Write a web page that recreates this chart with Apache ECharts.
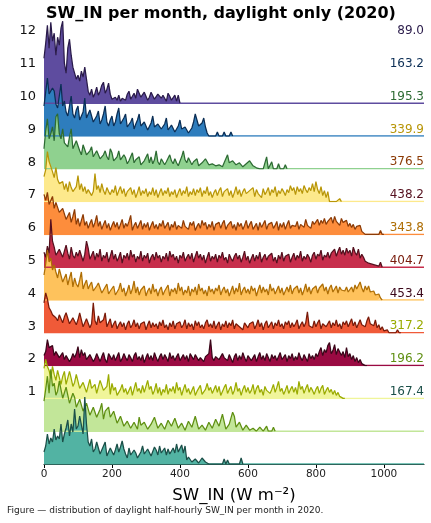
<!DOCTYPE html>
<html><head><meta charset="utf-8">
<script src="https://cdn.jsdelivr.net/npm/echarts@6/dist/echarts.min.js"></script>
<style>html,body{margin:0;padding:0;background:#fff}#c{width:431px;height:523px}</style>
</head><body><div id="c"></div>
<script>
// months Jan..Dec (index 0 = January, bottom ridge)
const months = ['1','2','3','4','5','6','7','8','9','10','11','12'];
const meanSW = ['167.4','196.2','317.2','453.4','404.7','343.8','438.2','376.5','339.9','195.3','163.2','89.0'];
const binWidth = 5; // W m-2 per histogram bin
const xTicks = [0,200,400,600,800,1000];
// histogram heights per 5 W m-2 bin (arbitrary units)
const jan = [12,18,30,20,26,22,35,24,28,25, 40,22,30,36,44,28,40,32,55,35, 38,48,50,30,67,40,22,18,25,12, 15,22,20,10,12,18,22,8,10,16,
  18,9,14,20,12,17,23,15,10,6, 16,9,8,14,11,6,9,12,18,10, 12,15,16,8,10,17,14,9,18,11, 12,16,9,15,10,13,16,11,20,12,
  14,19,11,18,4,7,6,2,3,5, 5,1,3,6,8,2,0,0,0,0, 0,0,0,0,0,0,5,0,4,0, 0,0,0,0,0,0,6,0];
const feb = [30,42,55,38,62,45,48,36,40,50, 52,33,35,44,45,28,30,38,34,24, 25,32,34,20,22,28,30,16,18,24, 26,14,15,22,28,12,20,18,24,14,
  14,20,22,8,10,15,16,5,6,10, 12,3,4,9,10,2,14,6,5,9, 9,2,3,7,8,14,15,3,4,8, 10,2,3,11,12,5,6,13,14,3,
  4,8,9,1,2,10,12,4,5,15, 16,2,3,6,8,1,2,9,10,3, 4,12,14,5,6,17,18,2,3,7, 8,19,15,4,5,9,10,1,2,6,
  7,1,1,3,4,0,1,4,5,0, 0,5,0,0,0,4,0];
const mar = [30,39,32,28,20,32,24,18,28,26, 14,22,27,14,12,27,20,12,16,24, 24,10,12,16,18,6,8,19,10,8, 14,5,6,18,16,8,10,12,24,4,
  15,8,11,3,5,9,14,6,10,4, 8,12,3,5,16,7,10,5,13,6, 6,18,9,12,4,8,15,5,11,3, 9,6,14,4,10,7,12,5,16,8,
  11,3,9,14,6,10,4,8,12,3, 7,10,13,4,6,9,15,8,11,5, 9,13,6,12,3,7,11,14,5,9, 12,4,8,16,7,10,3,9,13,6,
  11,5,8,14,4,10,13,6,9,3, 12,8,10,5,9,14,6,11,17,7, 10,4,8,13,5,9,12,6,11,4, 17,9,12,5,10,14,6,11,8,4,
  9,12,5,10,13,4,8,11,6,9, 4,8,3,6,2,0,0,0];
const apr = [10,14,26,18,16,20,10,14,12,8, 9,13,6,10,11,4,7,12,8,12, 19,8,16,10,13,6,5,11,10,4, 7,12,8,4,9,13,6,3,12,9,
  6,11,5,9,13,4,7,12,8,5, 11,8,4,10,13,6,9,5,11,3, 8,12,6,10,5,13,8,4,9,12, 6,11,8,4,13,7,10,5,9,12,
  5,8,11,6,10,4,12,9,6,11, 13,5,8,10,4,9,7,12,26,8, 5,9,11,6,4,12,8,10,5,11, 7,3,9,12,5,10,6,13,8,4,
  10,12,5,8,11,4,9,13,6,10, 5,12,8,4,11,7,10,5,9,13, 6,8,11,4,10,7,12,5,9,6, 13,8,5,11,9,4,12,7,10,6,
  12,9,14,18,10,16,13,20,23,12, 15,21,11,17,19,10,14,8,18,9, 12,6,10,4,8,3,6,2,4,0, 0];
const may = [30,40,34,25,22,18,20,15,12,18, 14,10,16,20,22,9,12,15,17,8, 13,20,18,6,10,14,12,5,9,30, 12,8,17,10,8,13,20,6,10,14,
  5,9,12,4,8,11,6,10,3,9, 12,5,8,13,6,10,4,9,7,11, 3,8,12,5,10,6,9,4,11,7, 13,5,8,3,10,6,12,4,9,7,
  11,5,8,13,4,10,6,9,3,12, 7,11,5,8,4,10,13,6,9,5, 12,4,8,11,3,9,6,12,5,10, 7,13,4,9,11,6,8,3,10,12,
  5,9,7,11,4,8,13,6,10,3, 9,12,5,8,11,4,10,7,13,6, 9,4,11,8,12,5,10,6,9,13, 4,8,11,6,10,21,7,9,5,12,
  6,10,13,4,9,11,6,8,12,5, 10,7,13,6,9,4,11,8,12,6, 10,14,7,11,5,9,13,8,10,6, 12,16,9,11,7,13,5,8,3,6,
  2,0,3,0,0,0,0,0,3,0, 0];
const jun = [25,36,50,38,42,30,35,28,22,31, 31,18,20,26,15,22,28,13,22,16, 13,20,28,11,16,20,11,15,18,9, 9,14,17,19,7,10,12,16,6,9,
  10,14,5,8,11,17,8,12,4,9, 15,6,11,19,7,13,5,10,8,14, 4,9,12,6,16,8,11,4,10,13, 5,9,7,15,4,11,8,12,6,17,
  9,13,5,10,7,14,4,11,8,13, 5,16,9,12,6,10,4,14,8,11, 6,12,9,15,5,10,13,7,11,4, 9,14,6,12,8,17,5,10,13,7,
  11,6,14,9,12,4,10,15,7,13, 8,11,5,16,9,12,6,10,14,7, 12,5,9,13,8,15,6,11,9,14, 7,12,5,10,16,8,13,6,11,9,
  14,7,12,10,16,9,13,6,12,15, 8,11,14,7,13,10,12,9,13,8, 10,13,8,15,11,9,18,12,8,14, 10,14,8,6,9,5,3,6,2,0];
const jul = [15,10,21,14,48,26,20,12,12,18, 18,10,16,22,14,8,20,12,9,15, 11,17,17,6,13,26,19,8,12,16, 7,14,10,18,6,12,9,15,5,11,
  17,8,13,6,10,15,4,12,9,14, 7,17,10,13,5,11,8,16,6,12, 9,14,4,10,13,7,15,9,12,5, 11,8,14,6,16,10,13,7,11,4,
  12,9,15,6,10,13,8,14,5,11, 16,9,13,7,12,4,10,15,6,11, 8,13,5,12,9,15,7,10,4,13, 9,6,11,14,8,12,5,10,16,7,
  11,4,9,13,6,12,8,15,5,10, 13,7,11,9,14,6,10,4,12,8, 15,6,11,9,13,5,10,14,7,12, 9,16,6,11,8,13,10,5,12,15,
  8,13,11,17,7,12,10,15,9,14, 12,18,11,16,20,13,17,12,19,14, 17,11,20,15,12,18,9,13,10,6, 8,4,6,3,5,2,4,1,5,0];
const aug = [40,34,42,30,30,38,26,32,32,22, 20,26,24,15,15,22,12,18,25,10, 16,8,14,20,9,13,6,11,15,7, 12,19,8,13,5,10,14,6,11,4,
  9,13,7,12,5,10,15,6,11,8, 13,19,4,9,12,6,10,14,5,11, 7,12,4,9,13,6,10,5,11,8, 14,6,9,12,4,10,7,13,5,9,
  11,6,14,8,10,5,12,9,13,4, 8,11,6,14,9,12,5,10,7,13, 4,10,8,12,6,11,14,5,9,7, 13,6,10,4,12,8,11,5,9,14,
  6,10,13,5,8,11,4,12,7,9, 14,5,10,8,12,6,9,13,4,11, 7,12,5,10,14,6,9,11,8,13, 5,10,12,7,15,9,11,6,13,10,
  12,15,9,14,11,16,10,13,12,17, 11,18,13,15,9,16,12,10,14,8, 11,7,10,5,8,6,9,3,4,0, 0,0,0,0,0,0,0,0,4,0, 0];
const sep = [25,32,50,40,38,30,24,34,22,18, 16,20,12,18,10,20,14,10,8,15, 26,12,18,10,15,8,12,14,6,10, 28,12,16,9,18,11,7,14,10,7,
  12,9,16,6,11,15,8,13,5,10, 10,14,7,12,4,9,15,6,11,8, 13,5,10,7,14,6,12,4,9,13, 6,11,8,14,5,10,7,12,4,9,
  13,6,11,8,15,5,10,7,13,6, 12,9,14,5,11,8,15,6,10,4, 9,12,6,11,14,5,10,8,13,6, 11,4,9,15,7,12,5,10,13,8,
  6,11,9,14,5,12,8,10,4,13, 7,10,14,6,12,9,15,5,11,8, 13,10,6,12,9,16,11,14,7,15, 10,13,8,16,12,9,14,11,18,10,
  20,12,8,15,6,11,4,10,0,0, 0,0,0,0,3,0];
const oct = [20,38,50,30,35,42,28,52,55,35, 30,40,26,25,22,32,40,20,18,28, 30,18,14,24,26,14,12,18,22,12, 10,18,20,10,8,14,18,12,9,20,
  16,8,6,12,18,9,7,14,11,5, 8,12,16,6,9,10,12,4,6,8, 10,15,6,12,5,9,18,7,4,10, 12,4,7,9,14,8,5,10,6,3,
  5,12,18,9,6,11,13,4,7,8, 10,3,5,6,8,10,12,4,2,5, 6,3,5,4,5,2,3,10,14,6, 4,8,10,4,2,6,8,2,3,5,
  5,8,10,3,2,1,0,0,0,0, 0,12,0,0,7,0,0,0,5,0, 0,0,4,0];
const nov = [30,44,58,42,40,48,45,32,28,40, 52,30,35,24,20,30,40,22,18,26, 30,16,15,24,38,18,20,26,28,14, 12,20,25,12,16,22,30,14,10,16,
  20,10,14,22,28,12,10,18,22,9, 8,14,18,7,12,16,22,10,9,14, 16,6,5,13,20,9,11,12,14,7, 5,12,18,6,8,11,12,4,3,10,
  16,7,6,9,10,3,2,8,14,22, 24,10,8,13,18,9,3,0,0,0, 0,0,4,0,0,0,4,0,0,0, 4,0];
const dec = [45,60,78,55,81,62,70,48,66,58, 75,82,40,30,55,64,48,36,30,24, 28,22,32,26,36,24,12,8,14,6, 10,16,8,12,18,21,10,14,20,9,
  4,2,6,3,8,2,5,7,3,9, 12,4,6,10,5,14,16,6,8,11, 10,3,6,11,12,4,3,9,7,5, 8,6,2,10,7,3,5,8,2,8, 0];
const ridges = [jan,feb,mar,apr,may,jun,jul,aug,sep,oct,nov,dec];
const fills = ['#52b3a3','#c2e699','#f0f59a','#9a0a42','#f05a38','#fec25c','#c72e4c','#fd8d3c','#fde98c','#8fd18f','#2e7dbd','#5e4c9f'];
const lines = ['#1b4f48','#5f8f12','#9aab00','#3a0619','#781a0a','#ae6e05','#55101e','#8c3b06','#b89608','#2d6b33','#0b2e55','#2a1b4a'];

const xMax = 1118, ridgeH = 100, bottomBase = 464, step = 32.8;
const font = 'DejaVu Sans';
const grids = [], xAxes = [], yAxes = [], series = [];
for (let m = 11; m >= 0; m--) {
  const gi = grids.length;
  const base = bottomBase - m * step;
  grids.push({left: 44, right: 7, top: base - ridgeH, height: ridgeH});
  const isBottom = m === 0;
  xAxes.push({
    type: 'value', gridIndex: gi, min: 0, max: xMax, show: isBottom,
    splitLine: {show: false},
    axisLine: {show: isBottom, lineStyle: {color: '#000', width: 1}},
    axisTick: {show: isBottom, length: 4, lineStyle: {color: '#000'}, customValues: xTicks},
    axisLabel: {show: isBottom, fontSize: 10.5, color: '#222', fontFamily: font, margin: 5,
      customValues: xTicks, formatter: v => String(v)},
    name: isBottom ? 'SW_IN (W m\u207B\u00B2)' : '',
    nameLocation: 'middle', nameGap: 23,
    nameTextStyle: {fontSize: 16.5, color: '#000', fontFamily: font}
  });
  yAxes.push({type: 'value', gridIndex: gi, min: 0, max: ridgeH, show: false});
  series.push({
    type: 'line', xAxisIndex: gi, yAxisIndex: gi, silent: true,
    symbol: 'none', data: [[0, 0], [xMax, 0]],
    lineStyle: {color: fills[m], width: 1.5}, z: 2
  });
  series.push({
    type: 'line', xAxisIndex: gi, yAxisIndex: gi, silent: true,
    symbol: 'none', showSymbol: false,
    data: ridges[m].map((v, i) => [i * binWidth, v]),
    lineStyle: {color: lines[m], width: 1.25},
    areaStyle: {color: fills[m], opacity: 1}, z: 2
  });
}
// overlay grid for month labels (left) and mean values (right)
const og = grids.length;
grids.push({left: 44, right: 7, top: 14.6, height: 393.6});
xAxes.push({type: 'value', gridIndex: og, min: 0, max: xMax, show: false});
yAxes.push({
  type: 'category', gridIndex: og, data: months, position: 'left',
  axisLine: {show: false}, axisTick: {show: false}, splitLine: {show: false},
  axisLabel: {fontSize: 13, color: '#111', fontFamily: font, margin: 8}
});
yAxes.push({
  type: 'category', gridIndex: og, data: meanSW, position: 'right',
  axisLine: {show: false}, axisTick: {show: false}, splitLine: {show: false},
  axisLabel: {inside: true, margin: 0, fontSize: 12, fontFamily: font,
    color: (v, i) => lines[i]}
});

const chart = echarts.init(document.getElementById('c'), null, {renderer: 'canvas'});
chart.setOption({
  animation: false,
  backgroundColor: '#fff',
  title: [
    {text: 'SW_IN per month, daylight only (2020)', left: 41, top: 1,
     textStyle: {fontSize: 16, fontWeight: 'bold', color: '#000', fontFamily: font}},
    {text: 'Figure \u2014 distribution of daylight half-hourly SW_IN per month in 2020.', left: 2, top: 501,
     textStyle: {fontSize: 9, fontWeight: 'normal', color: '#222', fontFamily: font}}
  ],
  grid: grids, xAxis: xAxes, yAxis: yAxes, series: series
});
</script></body></html>
